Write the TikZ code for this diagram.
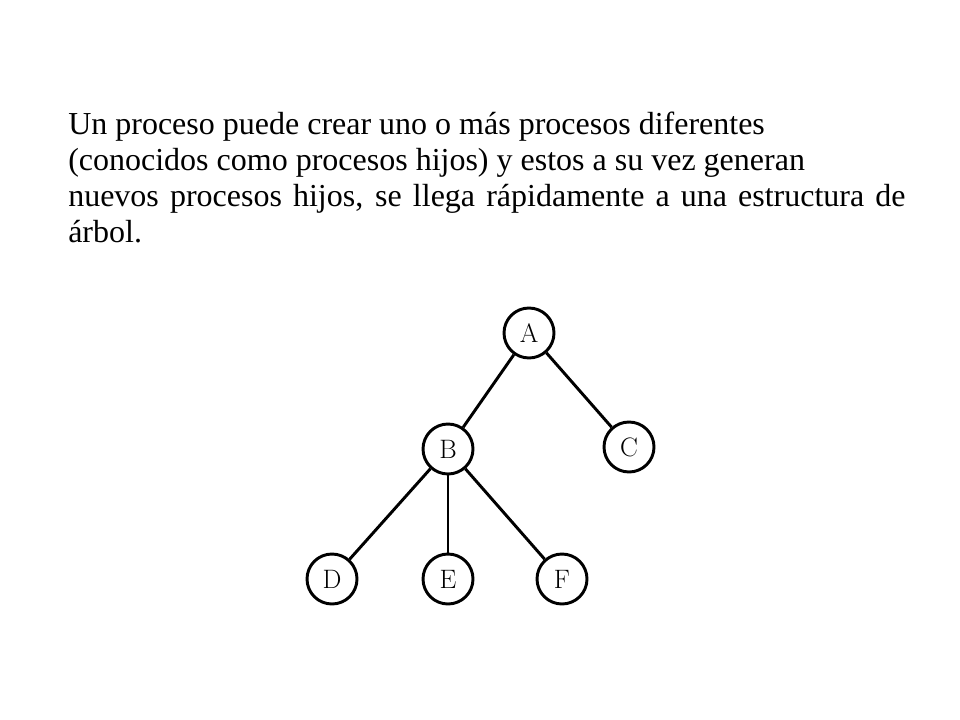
\documentclass[tikz,border=0pt]{standalone}
\usepackage{fontspec}
\newfontfamily\tnr{Liberation Serif}
\begin{document}
\begin{tikzpicture}[x=0.75pt,y=-0.75pt,
  vert/.style={circle,draw=black,line width=2.2pt,minimum size=37.5pt,inner sep=0pt,font=\fontsize{20}{22}\selectfont},
  edge/.style={line width=2.2pt},
  para/.style={anchor=base west,inner sep=0pt,font=\tnr\fontsize{24}{27}\selectfont}]
\useasboundingbox (0,0) rectangle (960,720);
\node[para] (l1) at (68,135) {Un proceso puede crear uno o más procesos diferentes};
\node[para] (l2) at (68,171) {(conocidos como procesos hijos) y estos a su vez generan};
\node[para] (l3) at (68,207) {\makebox[628pt][s]{nuevos procesos hijos, se llega rápidamente a una estructura de}};
\node[para] (l4) at (68,243) {árbol.};
\node[vert] (A) at (529,333) {A};
\node[vert] (B) at (448,449) {B};
\node[vert] (C) at (629,447) {C};
\node[vert] (D) at (332,579) {D};
\node[vert] (E) at (448,579) {E};
\node[vert] (F) at (562,579) {F};
\draw[edge] (A) -- (B);
\draw[edge] (A) -- (C);
\draw[edge] (B) -- (D);
\draw[edge] (B) -- (E);
\draw[edge] (B) -- (F);
\end{tikzpicture}
\end{document}
